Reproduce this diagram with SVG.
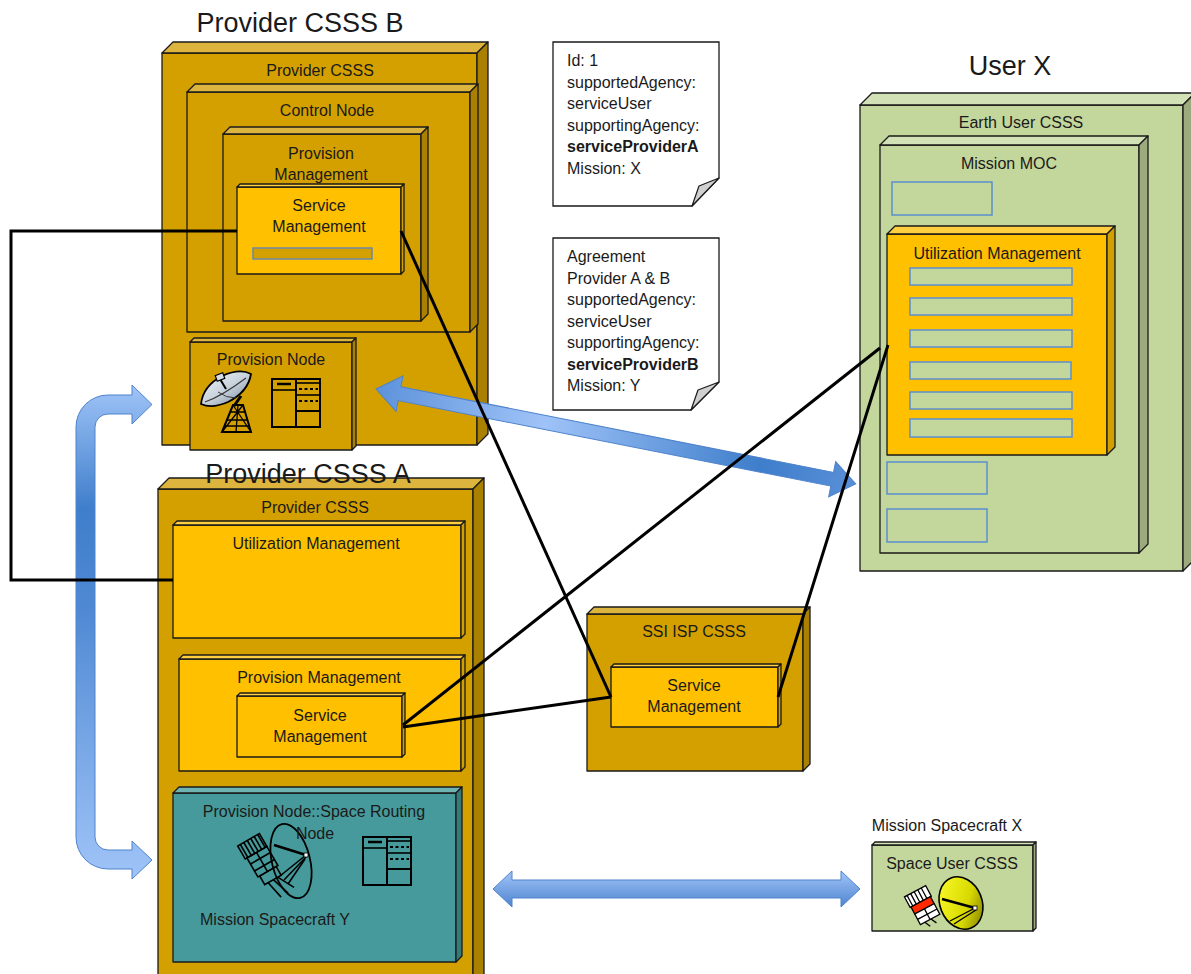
<svg xmlns="http://www.w3.org/2000/svg" width="1191" height="974" viewBox="0 0 1191 974">
  <style>
    text { font-family: "Liberation Sans", Arial, sans-serif; fill: #1a1a1a; }
    .lbl { font-size: 16px; text-anchor: middle; }
    .ttl { font-size: 27px; text-anchor: middle; }
    .note { font-size: 16px; }
    .b { font-weight: bold; }
    .edge { stroke: #1a1a1a; stroke-width: 1.3; stroke-linejoin: round; }
    .gF { fill: #D4A000; } .gT { fill: #DDB43E; } .gS { fill: #A98000; }
    .yF { fill: #FFC000; } .yT { fill: #FFCF40; } .yS { fill: #D29F00; }
    .vF { fill: #C3D69B; } .vT { fill: #D3E1B6; } .vS { fill: #9DAA7D; }
    .tF { fill: #479A9B; } .tT { fill: #6FB3B3; } .tS { fill: #347A7B; }
    .slot { fill: #C3D69B; stroke: #5B8FD0; stroke-width: 1.5; }
    .slotG { fill: #D4A000; stroke: #6C88A8; stroke-width: 1.5; }
    .wire { fill: none; stroke: #000; stroke-width: 3; stroke-linejoin: miter; }
    .ico { fill: none; stroke: #000; stroke-width: 1.6; }
    .arrow { stroke: #4F83CC; stroke-width: 1; }
  </style>
  <defs>
    <linearGradient id="gLoop" gradientUnits="userSpaceOnUse" x1="0" y1="385" x2="0" y2="880">
      <stop offset="0" stop-color="#A0C4F8"/>
      <stop offset="0.25" stop-color="#3F7ECB"/>
      <stop offset="0.45" stop-color="#4F89D3"/>
      <stop offset="1" stop-color="#A0C4F8"/>
    </linearGradient>
    <linearGradient id="gHoriz" x1="0" y1="0" x2="0" y2="1">
      <stop offset="0" stop-color="#A2C5F8"/>
      <stop offset="1" stop-color="#4E84CF"/>
    </linearGradient>
    <linearGradient id="gDiag" gradientUnits="userSpaceOnUse" x1="0" y1="0" x2="489" y2="0">
      <stop offset="0" stop-color="#5D92DA"/>
      <stop offset="0.35" stop-color="#9FC3F8"/>
      <stop offset="0.8" stop-color="#3E7ECB"/>
      <stop offset="1" stop-color="#5A8FD8"/>
    </linearGradient>
    <linearGradient id="gDish" x1="0" y1="0" x2="1" y2="1">
      <stop offset="0" stop-color="#F4F7FA"/>
      <stop offset="0.5" stop-color="#C9D3DD"/>
      <stop offset="1" stop-color="#6F8396"/>
    </linearGradient>
    <linearGradient id="gYellow" x1="0" y1="0" x2="1" y2="1">
      <stop offset="0" stop-color="#FFFF30"/>
      <stop offset="0.6" stop-color="#D8D800"/>
      <stop offset="1" stop-color="#6E6E00"/>
    </linearGradient>
    <!-- server rack glyph -->
    <g id="rack" class="ico">
      <rect x="0" y="0" width="48" height="48" stroke-width="2"/>
      <line x1="24" y1="0" x2="24" y2="48" stroke-width="2"/>
      <line x1="0" y1="11" x2="24" y2="11"/>
      <line x1="5" y1="5" x2="19" y2="5" stroke-width="2.5"/>
      <line x1="24" y1="4" x2="48" y2="4"/>
      <line x1="27" y1="10" x2="46" y2="10" stroke-width="2" stroke-dasharray="3 2.5"/>
      <line x1="24" y1="16" x2="48" y2="16"/>
      <line x1="27" y1="22" x2="46" y2="22" stroke-width="2" stroke-dasharray="3 2.5"/>
      <line x1="24" y1="32" x2="48" y2="32" stroke-width="2"/>
    </g>
  </defs>

  <!-- Provider CSSS B -->
  <g id="provider-b">
    <text class="ttl" x="300" y="32">Provider CSSS B</text>
    <g class="edge">
      <rect class="gF" x="162" y="53" width="315" height="392"/>
      <polygon class="gT" points="162,53 173,42 488,42 477,53"/>
      <polygon class="gS" points="477,53 488,42 488,434 477,445"/>
    </g>
    <text class="lbl" x="320" y="76">Provider CSSS</text>
  </g>
  <g id="control-node">
    <g class="edge">
      <rect class="gF" x="187" y="92" width="283" height="240"/>
      <polygon class="gT" points="187,92 195,84 478,84 470,92"/>
      <polygon class="gS" points="470,92 478,84 478,324 470,332"/>
    </g>
    <text class="lbl" x="327" y="116">Control Node</text>
  </g>
  <g id="provision-mgmt-b">
    <g class="edge">
      <rect class="gF" x="223" y="134" width="198" height="187"/>
      <polygon class="gT" points="223,134 230,127 428,127 421,134"/>
      <polygon class="gS" points="421,134 428,127 428,314 421,321"/>
    </g>
    <text class="lbl" x="321" y="159">Provision</text>
    <text class="lbl" x="321" y="180">Management</text>
  </g>
  <g id="service-mgmt-b">
    <g class="edge">
      <rect class="yF" x="237" y="187" width="164" height="87"/>
      <polygon class="yT" points="237,187 240,184 404,184 401,187"/>
      <polygon class="yS" points="401,187 404,184 404,271 401,274"/>
    </g>
    <text class="lbl" x="319" y="211">Service</text>
    <text class="lbl" x="319" y="232">Management</text>
    <rect class="slotG" x="253" y="248" width="119" height="11"/>
  </g>
  <g id="provision-node-b">
    <g class="edge">
      <rect class="gF" x="190" y="342" width="162" height="108"/>
      <polygon class="gT" points="190,342 194,338 356,338 352,342"/>
      <polygon class="gS" points="352,342 356,338 356,446 352,450"/>
    </g>
    <text class="lbl" x="271" y="365">Provision Node</text>
    <!-- ground antenna: lattice tower and dish -->
    <g class="ico">
      <path d="M222,432 L233,405 L243,405 L251,432 Z" stroke-width="2"/>
      <path d="M222,432 L243,405 M251,432 L233,405 M227,420 L248,420 M225,426 L250,426 M230,412 L246,412 M236,432 L238,405" stroke-width="1.3"/>
      <path d="M234,406 L241,396" stroke-width="3"/>
    </g>
    <path d="M201,404 Q203,386 222,376 Q240,368 251,374 Q248,392 228,402 Q212,409 201,404 Z" fill="url(#gDish)" stroke="#000" stroke-width="1.8"/>
    <path d="M205,402 Q222,396 246,378" fill="none" stroke="#3a3a3a" stroke-width="1.2"/>
    <path d="M218,392 Q226,398 236,398" fill="none" stroke="#3a3a3a" stroke-width="1"/>
    <line x1="226" y1="389" x2="220" y2="379" stroke="#000" stroke-width="2"/>
    <rect x="216" y="374" width="8" height="6" fill="#D8DEE5" stroke="#000" stroke-width="1.2" transform="rotate(-20 220 377)"/>
    <use href="#rack" x="272" y="379"/>
  </g>

  <!-- agreement notes -->
  <g id="note-1">
    <path d="M553,42 L719,42 L719,178 L692,206 L553,206 Z" fill="#fff" stroke="#1a1a1a" stroke-width="1.3"/>
    <path d="M719,178 L692,206 L699,186 Z" fill="#D0D0D0" stroke="#1a1a1a" stroke-width="1.2" stroke-linejoin="round"/>
    <text class="note" x="567" y="66">Id: 1</text>
    <text class="note" x="567" y="87.5">supportedAgency:</text>
    <text class="note" x="567" y="109">serviceUser</text>
    <text class="note" x="567" y="130.5">supportingAgency:</text>
    <text class="note b" x="567" y="152">serviceProviderA</text>
    <text class="note" x="567" y="173.5">Mission: X</text>
  </g>
  <g id="note-2">
    <path d="M553,238 L719,238 L719,382 L691,410 L553,410 Z" fill="#fff" stroke="#1a1a1a" stroke-width="1.3"/>
    <path d="M719,382 L691,410 L698,390 Z" fill="#D0D0D0" stroke="#1a1a1a" stroke-width="1.2" stroke-linejoin="round"/>
    <text class="note" x="567" y="262">Agreement</text>
    <text class="note" x="567" y="283.5">Provider A &amp; B</text>
    <text class="note" x="567" y="305">supportedAgency:</text>
    <text class="note" x="567" y="326.5">serviceUser</text>
    <text class="note" x="567" y="348">supportingAgency:</text>
    <text class="note b" x="567" y="369.5">serviceProviderB</text>
    <text class="note" x="567" y="391">Mission: Y</text>
  </g>

  <!-- User X -->
  <g id="user-x">
    <text class="ttl" x="1010" y="75">User X</text>
    <g class="edge">
      <rect class="vF" x="860" y="105" width="323" height="466"/>
      <polygon class="vT" points="860,105 872,93 1195,93 1183,105"/>
      <polygon class="vS" points="1183,105 1195,93 1195,559 1183,571"/>
    </g>
    <text class="lbl" x="1021" y="128">Earth User CSSS</text>
  </g>
  <g id="mission-moc">
    <g class="edge">
      <rect class="vF" x="880" y="145" width="259" height="408"/>
      <polygon class="vT" points="880,145 889,136 1148,136 1139,145"/>
      <polygon class="vS" points="1139,145 1148,136 1148,544 1139,553"/>
    </g>
    <text class="lbl" x="1009" y="169">Mission MOC</text>
    <rect class="slot" x="892" y="182" width="100" height="33"/>
    <rect class="slot" x="887" y="462" width="100" height="32"/>
    <rect class="slot" x="887" y="509" width="100" height="33"/>
  </g>
  <g id="utilization-mgmt-x">
    <g class="edge">
      <rect class="yF" x="887" y="234" width="220" height="221"/>
      <polygon class="yT" points="887,234 895,226 1115,226 1107,234"/>
      <polygon class="yS" points="1107,234 1115,226 1115,447 1107,455"/>
    </g>
    <text class="lbl" x="997" y="259">Utilization Management</text>
    <rect class="slot" x="910" y="268" width="162" height="17"/>
    <rect class="slot" x="910" y="298" width="162" height="17"/>
    <rect class="slot" x="910" y="330" width="162" height="17"/>
    <rect class="slot" x="910" y="362" width="161" height="17"/>
    <rect class="slot" x="910" y="392" width="162" height="17"/>
    <rect class="slot" x="910" y="419" width="162" height="18"/>
  </g>

  <!-- Provider CSSS A -->
  <g id="provider-a">
    <g class="edge">
      <rect class="gF" x="158" y="489" width="315" height="500"/>
      <polygon class="gT" points="158,489 169,478 484,478 473,489"/>
      <polygon class="gS" points="473,489 484,478 484,978 473,989"/>
    </g>
    <text class="ttl" x="308" y="483">Provider CSSS A</text>
    <text class="lbl" x="315" y="513">Provider CSSS</text>
  </g>
  <g id="utilization-mgmt-a">
    <g class="edge">
      <rect class="yF" x="173" y="525" width="288" height="113"/>
      <polygon class="yT" points="173,525 177,521 465,521 461,525"/>
      <polygon class="yS" points="461,525 465,521 465,634 461,638"/>
    </g>
    <text class="lbl" x="316" y="549">Utilization Management</text>
  </g>
  <g id="provision-mgmt-a">
    <g class="edge">
      <rect class="yF" x="179" y="659" width="282" height="112"/>
      <polygon class="yT" points="179,659 183,655 465,655 461,659"/>
      <polygon class="yS" points="461,659 465,655 465,767 461,771"/>
    </g>
    <text class="lbl" x="319" y="683">Provision Management</text>
  </g>
  <g id="service-mgmt-a">
    <g class="edge">
      <rect class="yF" x="237" y="696" width="165" height="61"/>
      <polygon class="yT" points="237,696 240,693 405,693 402,696"/>
      <polygon class="yS" points="402,696 405,693 405,754 402,757"/>
    </g>
    <text class="lbl" x="320" y="721">Service</text>
    <text class="lbl" x="320" y="742">Management</text>
  </g>
  <g id="space-routing-node">
    <g class="edge">
      <rect class="tF" x="173" y="793" width="283" height="169"/>
      <polygon class="tT" points="173,793 179,787 462,787 456,793"/>
      <polygon class="tS" points="456,793 462,787 462,956 456,962"/>
    </g>
    <!-- spacecraft outline -->
    <g class="ico" stroke-width="1.4">
      <ellipse cx="291" cy="861" rx="19" ry="38" transform="rotate(-14 291 861)" stroke-width="1.8"/>
      <line x1="274" y1="845" x2="306" y2="855" stroke-width="2.5"/>
      <line x1="280" y1="876" x2="306" y2="855"/>
      <line x1="284" y1="880" x2="306" y2="857"/>
      <line x1="288" y1="884" x2="305" y2="859"/>
      <g transform="rotate(-30 262 862)">
        <rect x="249" y="836" width="25" height="15"/>
        <line x1="252" y1="836" x2="252" y2="851"/><line x1="256" y1="836" x2="256" y2="851"/>
        <line x1="260" y1="836" x2="260" y2="851"/><line x1="264" y1="836" x2="264" y2="851"/>
        <line x1="268" y1="836" x2="268" y2="851"/><line x1="272" y1="836" x2="272" y2="851"/>
        <rect x="251" y="851" width="23" height="22"/>
        <line x1="251" y1="858" x2="274" y2="858"/><line x1="251" y1="866" x2="274" y2="866"/>
        <line x1="262" y1="851" x2="262" y2="873"/>
        <rect x="253" y="873" width="19" height="10"/>
        <line x1="257" y1="883" x2="261" y2="902"/><line x1="263" y1="883" x2="269" y2="902"/>
        <line x1="268" y1="883" x2="277" y2="900"/>
      </g>
    </g>
    <rect x="304" y="853" width="4" height="4" fill="#fff" stroke="#000" stroke-width="0.8"/>
    <text class="lbl" x="314" y="817">Provision Node::Space Routing</text>
    <text class="lbl" x="315" y="839">Node</text>
    <text class="lbl" x="275" y="925">Mission Spacecraft Y</text>
    <use href="#rack" x="363" y="837"/>
  </g>

  <!-- SSI ISP -->
  <g id="ssi-isp">
    <g class="edge">
      <rect class="gF" x="587" y="614" width="216" height="157"/>
      <polygon class="gT" points="587,614 594,607 810,607 803,614"/>
      <polygon class="gS" points="803,614 810,607 810,764 803,771"/>
    </g>
    <text class="lbl" x="694" y="637">SSI ISP CSSS</text>
  </g>
  <g id="service-mgmt-ssi">
    <g class="edge">
      <rect class="yF" x="611" y="667" width="167" height="60"/>
      <polygon class="yT" points="611,667 614,664 781,664 778,667"/>
      <polygon class="yS" points="778,667 781,664 781,724 778,727"/>
    </g>
    <text class="lbl" x="694" y="691">Service</text>
    <text class="lbl" x="694" y="712">Management</text>
  </g>

  <!-- Mission Spacecraft X -->
  <g id="space-user">
    <text class="lbl" x="947" y="831">Mission Spacecraft X</text>
    <g class="edge">
      <rect class="vF" x="872" y="845" width="161" height="86"/>
      <polygon class="vT" points="872,845 875,842 1036,842 1033,845"/>
      <polygon class="vS" points="1033,845 1036,842 1036,928 1033,931"/>
    </g>
    <text class="lbl" x="952" y="869">Space User CSSS</text>
    <ellipse cx="961" cy="903" rx="21" ry="27" transform="rotate(-22 961 903)" fill="url(#gYellow)" stroke="#000" stroke-width="1.6"/>
    <g stroke="#000" stroke-width="1.4" fill="none">
      <line x1="942" y1="899" x2="975" y2="908" stroke-width="2.5"/>
      <line x1="950" y1="921" x2="975" y2="908"/>
      <line x1="954" y1="924" x2="976" y2="910"/>
    </g>
    <rect x="973" y="906" width="4" height="4" fill="#fff" stroke="#000" stroke-width="0.8"/>
    <g transform="rotate(-28 924 908)" stroke="#000" stroke-width="1.3">
      <rect x="912" y="889" width="24" height="12" fill="#fff"/>
      <path d="M915,889 v12 M919,889 v12 M923,889 v12 M927,889 v12 M931,889 v12" fill="none"/>
      <rect x="913" y="901" width="22" height="8" fill="#FF2A00"/>
      <rect x="913" y="909" width="22" height="12" fill="#fff"/>
      <path d="M913,915 h22 M924,909 v12" fill="none"/>
      <path d="M918,921 l3,6 M925,921 l3,6" fill="none"/>
    </g>
  </g>

  <!-- blue exchange arrows -->
  <g id="exchange-arrows">
    <path class="arrow" fill="url(#gLoop)" d="M152,404.5 L132,385 L132,395 L108,395 A32,32 0 0 0 76,427 L76,837 A32,32 0 0 0 108,869 L132,869 L132,879 L152,860 L132,841 L132,850 L108,850 A13,13 0 0 1 95,837 L95,427 A13,13 0 0 1 108,414 L132,414 L132,424 Z"/>
    <path class="arrow" fill="url(#gHoriz)" d="M493,889 L512,871 L512,880 L841,880 L841,871 L860,889 L841,907 L841,898 L512,898 L512,907 Z"/>
    <g transform="translate(376 389) rotate(11.19)">
      <path class="arrow" fill="url(#gDiag)" d="M0,0 L24,-18 L24,-7 L465,-7 L465,-18 L489,0 L465,18 L465,7 L24,7 L24,18 Z"/>
    </g>
  </g>

  <!-- management links -->
  <g id="connectors">
    <polyline class="wire" points="237,231 11,231 11,580 173,580"/>
    <line class="wire" x1="401" y1="231" x2="611" y2="697"/>
    <line class="wire" x1="403" y1="727" x2="611" y2="697"/>
    <line class="wire" x1="403" y1="725" x2="880" y2="348"/>
    <line class="wire" x1="778" y1="697" x2="888" y2="345"/>
  </g>
</svg>
